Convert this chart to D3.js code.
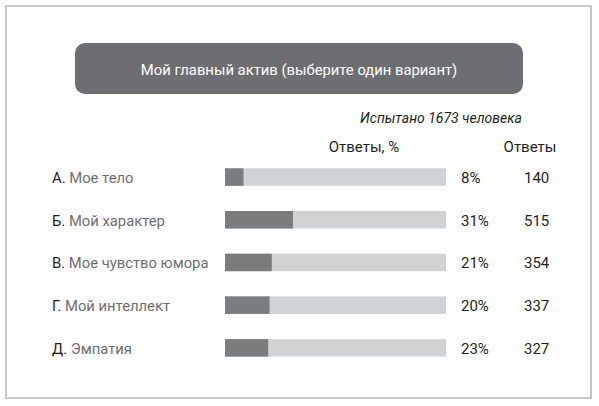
<!DOCTYPE html>
<html>
<head>
<meta charset="utf-8">
<script src="https://cdn.jsdelivr.net/npm/d3@7"></script>
<style>
  body { margin: 0; background: #fff; }
  svg { display: block; font-family: Roboto, "Open Sans", sans-serif; }
</style>
</head>
<body>
<svg id="chart" width="599" height="406"></svg>
<script>
// Chart data
var letters = ["А.", "Б.", "В.", "Г.", "Д."];
var options = ["Мое тело", "Мой характер", "Мое чувство юмора", "Мой интеллект", "Эмпатия"];
var percents = [8, 31, 21, 20, 23];
var counts = [140, 515, 354, 337, 327];
var total = 1673;

var title = "Мой главный актив (выберите один вариант)";
var subtitle = "Испытано " + total + " человека";
var headers = ["Ответы, %", "Ответы"];

var svg = d3.select("#chart");

// Outer frame
svg.append("rect")
    .attr("x", 6).attr("y", 6)
    .attr("width", 585).attr("height", 392)
    .attr("fill", "#fff")
    .attr("stroke", "#c6c7c8")
    .attr("stroke-width", 2);

// Title box
svg.append("rect")
    .attr("x", 75).attr("y", 43)
    .attr("width", 448).attr("height", 51)
    .attr("rx", 10)
    .attr("fill", "#6d6e71");

svg.append("text")
    .attr("x", 299).attr("y", 75)
    .attr("text-anchor", "middle")
    .attr("fill", "#fff")
    .attr("font-size", 14.8)
    .text(title);

svg.append("text")
    .attr("x", 522).attr("y", 123)
    .attr("text-anchor", "end")
    .attr("font-style", "italic")
    .attr("font-size", 14)
    .attr("fill", "#231f20")
    .text(subtitle);

svg.append("text")
    .attr("x", 364).attr("y", 152)
    .attr("text-anchor", "middle")
    .attr("font-size", 15)
    .attr("fill", "#231f20")
    .text(headers[0]);

svg.append("text")
    .attr("x", 530).attr("y", 152)
    .attr("text-anchor", "middle")
    .attr("font-size", 15)
    .attr("fill", "#231f20")
    .text(headers[1]);

// Scales
var y = d3.scaleBand()
    .domain(d3.range(options.length))
    .range([155.5, 369.4])
    .paddingInner(0.59)
    .paddingOuter(0.3);

var x = d3.scaleLinear()
    .domain([0, total])
    .range([225, 446]);

var rows = svg.append("g").attr("class", "rows")
    .selectAll("g")
    .data(options)
    .join("g")
    .attr("transform", function (d, i) { return "translate(0," + y(i) + ")"; });

var bh = y.bandwidth();

// Background track
rows.append("rect")
    .attr("x", x(0))
    .attr("width", x(total) - x(0))
    .attr("height", bh)
    .attr("fill", "#d1d2d4");

// Value bar, length from answer count out of total
rows.append("rect")
    .attr("x", x(0))
    .attr("width", function (d, i) { return x(counts[i]) - x(0); })
    .attr("height", bh)
    .attr("fill", "#7b7c7e");

// Category label
var label = rows.append("text")
    .attr("x", 52)
    .attr("y", bh / 2 + 6)
    .attr("font-size", 14.8);

label.append("tspan")
    .attr("fill", "#231f20")
    .text(function (d, i) { return letters[i] + " "; });

label.append("tspan")
    .attr("fill", "#6d6e71")
    .text(function (d) { return d; });

rows.append("text")
    .attr("x", 461)
    .attr("y", bh / 2 + 6)
    .attr("font-size", 15)
    .attr("fill", "#231f20")
    .text(function (d, i) { return percents[i] + "%"; });

rows.append("text")
    .attr("x", 524)
    .attr("y", bh / 2 + 6)
    .attr("font-size", 15)
    .attr("fill", "#231f20")
    .text(function (d, i) { return counts[i]; });
</script>
</body>
</html>
